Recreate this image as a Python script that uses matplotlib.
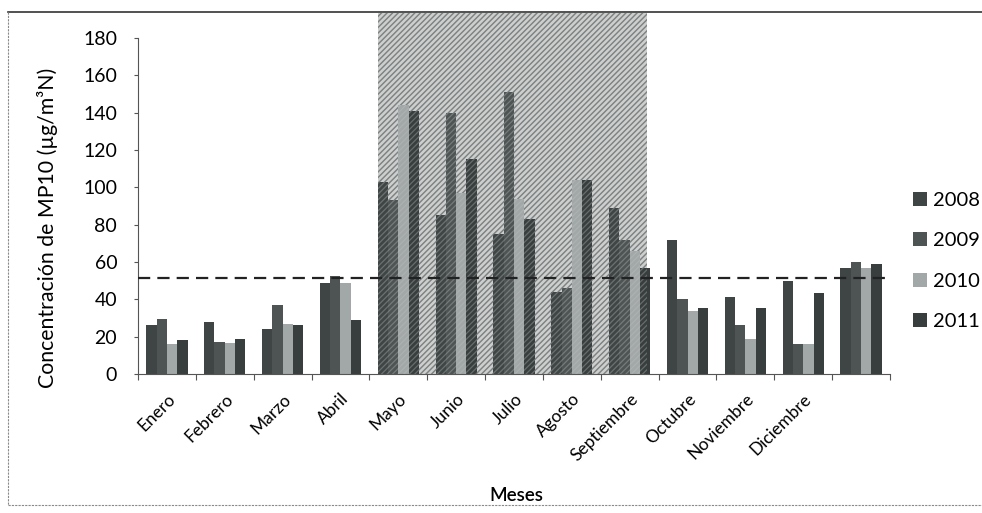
import numpy as np
import matplotlib.pyplot as plt
from matplotlib.patches import Rectangle
from matplotlib.lines import Line2D

plt.rcParams['font.family'] = ['Lato', 'DejaVu Sans']
plt.rcParams['hatch.linewidth'] = 0.9

meses = ["Enero", "Febrero", "Marzo", "Abril", "Mayo", "Junio", "Julio",
         "Agosto", "Septiembre", "Octubre", "Noviembre", "Diciembre", ""]
anios = ["2008", "2009", "2010", "2011"]

mp10_2008 = [26, 28, 24, 49, 103, 85, 75, 44, 89, 72, 41, 50, 57]
mp10_2009 = [29.5, 17, 37, 52.5, 93, 140, 151, 46, 72, 40, 26, 16, 60]
mp10_2010 = [16, 16.5, 27, 49, 144, 97, 94, 104, 66, 34, 19, 16, 57]
mp10_2011 = [18, 19, 26, 29, 141, 115, 83, 104, 57, 35.5, 35.5, 43.5, 59]
norma = 51.5

# periodo de invierno (mayo - septiembre)
invierno = (3.65, 8.30)

colores = ["#3f4545", "#4e5454", "#a2a7a7", "#383e3e"]

fig = plt.figure(figsize=(9.82, 5.13), dpi=100)
ax = fig.add_axes([138/982, (513-374)/513, 752/982, (374-38)/513])

x = np.arange(len(meses))
w = 0.178
series = [mp10_2008, mp10_2009, mp10_2010, mp10_2011]
for k, (vals, c, lab) in enumerate(zip(series, colores, anios)):
    ax.bar(x + (k - 1.5) * w, vals, width=w, color=c, label=lab, zorder=2)

# zona sombreada
ytop = 193.5
ax.add_patch(Rectangle((invierno[0], 0), invierno[1] - invierno[0], ytop,
                       facecolor="#cdcfcf", edgecolor="#5a5e5e", hatch="//////",
                       linewidth=0, zorder=0.5, clip_on=False))
ax.add_patch(Rectangle((invierno[0], 0), invierno[1] - invierno[0], ytop,
                       facecolor="none", edgecolor="#bfc3c3", hatch="//////",
                       linewidth=0, alpha=0.35, zorder=3, clip_on=False))

ax.axhline(norma, color="#222222", lw=1.6, dashes=(5.5, 3.2), zorder=4)

ax.set_xlim(-0.5, len(meses) - 0.5)
ax.set_ylim(0, 180)
ax.set_yticks(np.arange(0, 181, 20))
ax.tick_params(axis="y", labelsize=14, length=3, direction="out", width=0.8,
               color="#555555", pad=12)

ax.set_xticks(np.arange(len(meses) + 1) - 0.5)
ax.set_xticklabels([])
ax.set_xticks(x, minor=True)
ax.set_xticklabels(meses, minor=True, rotation=45, ha="right",
                   rotation_mode="anchor", fontsize=12.5)
ax.tick_params(axis="x", which="major", length=4, direction="out", width=0.8,
               color="#555555")
ax.tick_params(axis="x", which="minor", length=0, pad=12)

for s in ["top", "right"]:
    ax.spines[s].set_visible(False)
for s in ["left", "bottom"]:
    ax.spines[s].set_color("#555555")
    ax.spines[s].set_linewidth(0.8)

ax.set_ylabel("Concentración de MP10 (µg/m³N)", fontsize=15.3)
ax.yaxis.set_label_coords(-0.106, 0.435)
ax.set_xlabel("Meses", fontsize=13.5, fontweight="semibold")
ax.xaxis.set_label_coords(0.503, -0.335)

ax.legend(loc="center left", bbox_to_anchor=(913/982, (513-261)/513),
          bbox_transform=fig.transFigure, frameon=False, fontsize=14.5,
          handlelength=0.7, handleheight=0.7, handletextpad=0.3,
          labelspacing=1.15, borderaxespad=0, borderpad=0)

# marco del area del grafico
fig.add_artist(Line2D([8/982, 1], [1 - 12/513, 1 - 12/513], color="#333333",
                      lw=1.2, transform=fig.transFigure))
fig.add_artist(Line2D([8/982, 8/982], [1 - 12/513, 8/513], color="#8a8a8a",
                      lw=0.8, ls=(0, (2, 1)), transform=fig.transFigure))
fig.add_artist(Line2D([8/982, 1], [8/513, 8/513], color="#8a8a8a",
                      lw=0.8, ls=(0, (2, 1)), transform=fig.transFigure))

fig.savefig("out.png", dpi=100, facecolor="white")
